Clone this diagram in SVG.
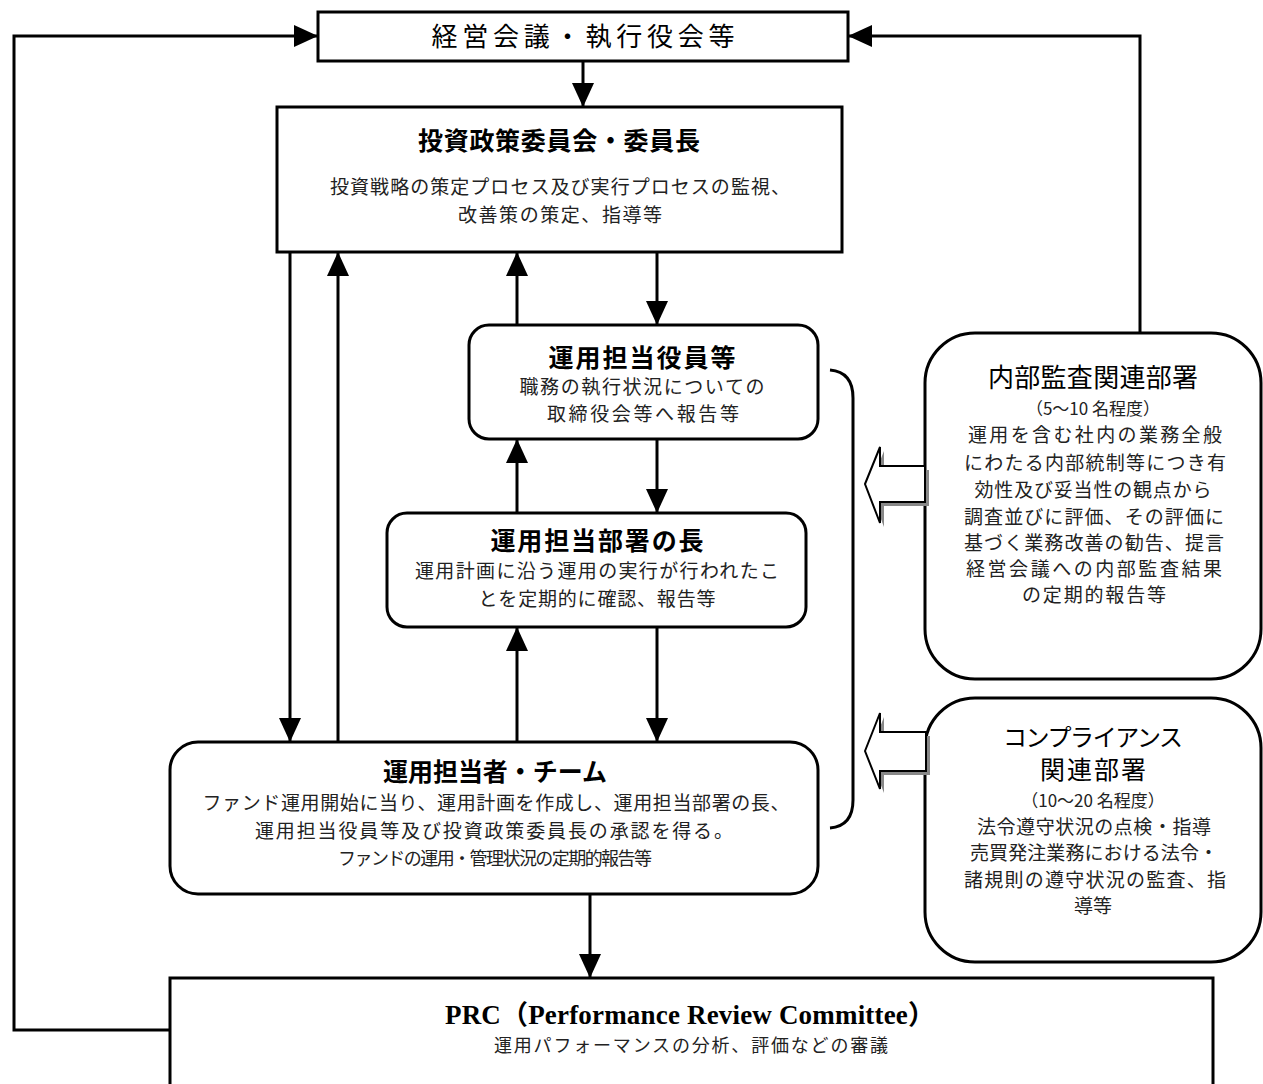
<svg xmlns="http://www.w3.org/2000/svg" width="1263" height="1084" viewBox="0 0 1263 1084">
<defs>
<style>
.box{fill:#fff;stroke:#000;stroke-width:3}
.ln{fill:none;stroke:#000;stroke-width:3}
.t{font-family:"Noto Sans CJK JP","Noto Sans",sans-serif;text-anchor:middle;fill:#000}
.h{font-size:25px;font-weight:bold}
.hn{font-size:26px;font-weight:normal}
.b{font-size:19px;fill:#222}
.r{font-size:19px;fill:#222}
.s{font-size:17px;fill:#222}
.prc{font-family:"Liberation Serif","Noto Sans CJK JP",serif;font-size:27px;font-weight:bold;text-anchor:middle}
.hol{fill:#fff;stroke:#000;stroke-width:2}
.sh{fill:#888}
</style>
<marker id="ah" markerUnits="userSpaceOnUse" markerWidth="24" markerHeight="22" refX="24" refY="11" orient="auto">
<path d="M0,0 L24,11 L0,22 z" fill="#000"/>
</marker>
</defs>

<g id="connectors">
<polyline class="ln" points="170,1030 14,1030 14,36 318,36" marker-end="url(#ah)"/>
<polyline class="ln" points="1140,333 1140,36 848,36" marker-end="url(#ah)"/>
<line class="ln" x1="583" y1="61" x2="583" y2="107" marker-end="url(#ah)"/>
<line class="ln" x1="290" y1="252" x2="290" y2="742" marker-end="url(#ah)"/>
<line class="ln" x1="338" y1="742" x2="338" y2="252" marker-end="url(#ah)"/>
<line class="ln" x1="517" y1="325" x2="517" y2="252" marker-end="url(#ah)"/>
<line class="ln" x1="657" y1="252" x2="657" y2="325" marker-end="url(#ah)"/>
<line class="ln" x1="517" y1="513" x2="517" y2="439" marker-end="url(#ah)"/>
<line class="ln" x1="657" y1="439" x2="657" y2="513" marker-end="url(#ah)"/>
<line class="ln" x1="517" y1="742" x2="517" y2="627" marker-end="url(#ah)"/>
<line class="ln" x1="657" y1="627" x2="657" y2="742" marker-end="url(#ah)"/>
<line class="ln" x1="590" y1="894" x2="590" y2="978" marker-end="url(#ah)"/>
<path class="ln" d="M830,370 Q853,372 853,398 L853,800 Q853,826 830,828"/>
</g>

<g id="node-keiei">
<rect class="box" x="318" y="12" width="530" height="49"/>
<text class="t hn" x="583" y="46" textLength="303">経営会議・執行役会等</text>
</g>

<g id="node-toshi">
<rect class="box" x="277" y="107" width="565" height="145"/>
<text class="t h" x="559" y="150" textLength="282">投資政策委員会・委員長</text>
<text class="t b" x="560" y="194" textLength="460">投資戦略の策定プロセス及び実行プロセスの監視、</text>
<text class="t b" x="560" y="222" textLength="204">改善策の策定、指導等</text>
</g>

<g id="node-yakuin">
<rect class="box" x="469" y="325" width="349" height="114" rx="20"/>
<text class="t h" x="642" y="367" textLength="187">運用担当役員等</text>
<text class="t b" x="642" y="394" textLength="245">職務の執行状況についての</text>
<text class="t b" x="643" y="421" textLength="192">取締役会等へ報告等</text>
</g>

<g id="node-bucho">
<rect class="box" x="387" y="513" width="419" height="114" rx="20"/>
<text class="t h" x="597" y="550" textLength="213">運用担当部署の長</text>
<text class="t b" x="597" y="578" textLength="364">運用計画に沿う運用の実行が行われたこ</text>
<text class="t b" x="597" y="606" textLength="237">とを定期的に確認、報告等</text>
</g>

<g id="node-team">
<rect class="box" x="170" y="742" width="648" height="152" rx="28"/>
<text class="t h" x="495" y="781" textLength="224">運用担当者・チーム</text>
<text class="t b" x="496" y="810" textLength="587">ファンド運用開始に当り、運用計画を作成し、運用担当部署の長、</text>
<text class="t b" x="494" y="838" textLength="478">運用担当役員等及び投資政策委員長の承認を得る。</text>
<text class="t b" x="495" y="865" textLength="314" style="font-size:18px">ファンドの運用・管理状況の定期的報告等</text>
</g>

<g id="node-prc">
<rect class="box" x="170" y="978" width="1043" height="130"/>
<text class="prc" x="690" y="1024" textLength="490">PRC（Performance Review Committee）</text>
<text class="t s" x="691" y="1052" textLength="394" style="font-size:18px">運用パフォーマンスの分析、評価などの審議</text>
</g>

<g id="node-kansa">
<rect class="box" x="925" y="333" width="336" height="346" rx="50"/>
<text class="t hn" x="1093" y="387" textLength="210">内部監査関連部署</text>
<text class="t s" x="1093" y="415">（5〜10 名程度）</text>
<text class="t r" x="1095" y="442" textLength="254">運用を含む社内の業務全般</text>
<text class="t r" x="1095" y="470" textLength="262">にわたる内部統制等につき有</text>
<text class="t r" x="1093" y="497" textLength="237">効性及び妥当性の観点から</text>
<text class="t r" x="1094" y="524" textLength="260">調査並びに評価、その評価に</text>
<text class="t r" x="1094" y="550" textLength="260">基づく業務改善の勧告、提言</text>
<text class="t r" x="1094" y="576" textLength="256">経営会議への内部監査結果</text>
<text class="t r" x="1094" y="602" textLength="144">の定期的報告等</text>
</g>

<g id="node-compliance">
<rect class="box" x="925" y="698" width="336" height="264" rx="50"/>
<text class="t hn" x="1093" y="746" textLength="180" style="font-size:24px">コンプライアンス</text>
<text class="t hn" x="1093" y="779" textLength="106" style="font-size:25px">関連部署</text>
<text class="t s" x="1093" y="807">（10〜20 名程度）</text>
<text class="t r" x="1094" y="834" textLength="234">法令遵守状況の点検・指導</text>
<text class="t r" x="1094" y="860" textLength="248">売買発注業務における法令・</text>
<text class="t r" x="1095" y="887" textLength="262">諸規則の遵守状況の監査、指</text>
<text class="t r" x="1093" y="913">導等</text>
</g>

<g id="hollow-arrows">
<polygon class="sh" points="869,488 884,451 884,470 929,470 929,506 884,506 884,527"/>
<polygon class="hol" points="865,484 880,447 880,466 925,466 925,502 880,502 880,523"/>
<polygon class="sh" points="869,755 884,717 884,736 930,736 930,775 884,775 884,793"/>
<polygon class="hol" points="865,751 880,713 880,732 926,732 926,771 880,771 880,789"/>
</g>
</svg>
